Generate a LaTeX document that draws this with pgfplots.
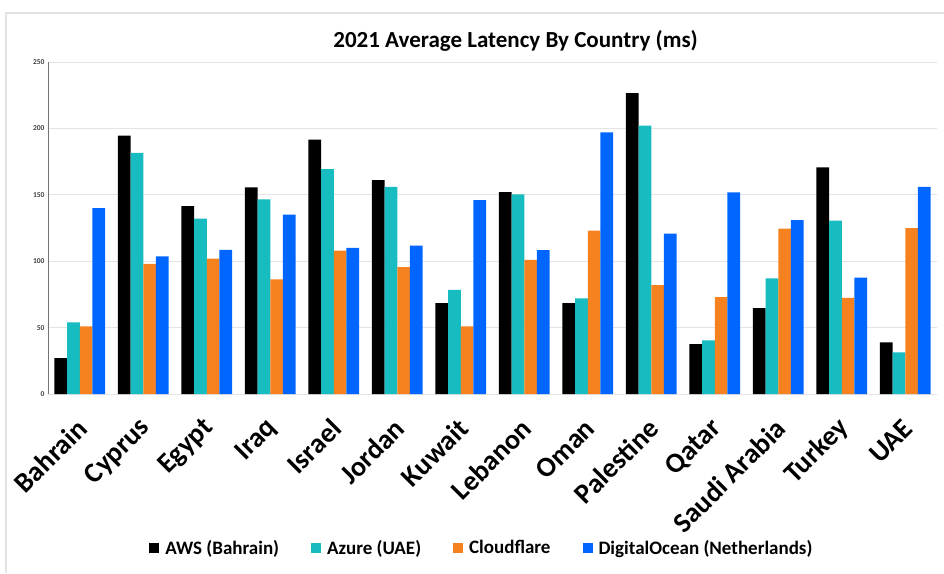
\documentclass[border=0pt]{standalone}
\usepackage{pgfplots}
\pgfplotsset{compat=1.18}
\usepackage{fontspec}
\setmainfont{Carlito}
\definecolor{cAWS}{HTML}{000000}
\definecolor{cAz}{HTML}{17BCC0}
\definecolor{cCF}{HTML}{F5821F}
\definecolor{cDO}{HTML}{0066FF}
\definecolor{gridc}{HTML}{E4E4E4}
\begin{document}
\begin{tikzpicture}[x=1pt,y=1pt]
\useasboundingbox (0,0) rectangle (944,573);
\draw[gridc, line width=1.2pt] (6,0) -- (6,560) -- (944,560);
\begin{axis}[
  at={(48pt,179pt)}, anchor=south west,
  scale only axis, width=889pt, height=332pt,
  ymin=0, ymax=250, ytick={0,50,...,250},
  xmin=-0.5, xmax=13.5,
  xtick={0,...,13},
  xticklabels={Bahrain,Cyprus,Egypt,Iraq,Israel,Jordan,Kuwait,Lebanon,Oman,Palestine,Qatar,Saudi Arabia,Turkey,UAE},
  major x tick style={draw=none},
  extra x ticks={-0.5,0.5,...,13.5},
  extra x tick labels={},
  extra x tick style={tick style={gridc, line width=0.8pt}, major tick length=5pt, tick align=outside, grid=none},
  xticklabel style={rotate=45, anchor=east, font=\fontsize{28}{28}\selectfont\bfseries, xshift=-13pt, yshift=-20pt},
  yticklabel style={font=\fontsize{7.5}{8}\selectfont\bfseries, text=black!75},
  /pgf/number format/assume math mode=true,
  ymajorgrids, grid style={gridc, line width=0.8pt},
  major y tick style={draw=none},
  axis x line*=bottom, axis y line*=left,
  x axis line style={gridc, line width=1pt, -},
  y axis line style={black!55, line width=1pt, -},
  ybar=0pt, bar width=0.2,
  title={2021 Average Latency By Country (ms)},
  title style={font=\fontsize{23}{23}\selectfont\bfseries, at={(axis description cs:0.526,1)}, anchor=center, yshift=15pt},
  legend columns=4,
  legend style={at={(axis description cs:0.488,-0.464)}, anchor=center, draw=none, font=\fontsize{19}{19}\selectfont\bfseries,
    /tikz/every odd column/.append style={column sep=4pt},
    /tikz/every even column/.append style={column sep=30pt}},
  legend image code/.code={\fill[#1] (0pt,-5pt) rectangle (10pt,5pt);},
]
\addplot[fill=cAWS, draw=none, bar shift=-0.3] coordinates {
(0,27) (1,194.5) (2,141.5) (3,155.6) (4,191.5) (5,161) (6,68.5) (7,152) (8,68.5) (9,226.6) (10,37.6) (11,64.7) (12,170.6) (13,38.9)};
\addplot[fill=cAz, draw=none, bar shift=-0.1] coordinates {
(0,54) (1,181.5) (2,132) (3,146.5) (4,169.4) (5,156) (6,78.5) (7,150.3) (8,72) (9,202) (10,40.4) (11,87) (12,130.5) (13,31.3)};
\addplot[fill=cCF, draw=none, bar shift=0.1] coordinates {
(0,51) (1,98) (2,102) (3,86.3) (4,108) (5,95.6) (6,51) (7,101) (8,123) (9,82) (10,73) (11,124.5) (12,72.3) (13,125)};
\addplot[fill=cDO, draw=none, bar shift=0.3] coordinates {
(0,140) (1,103.6) (2,108.6) (3,135) (4,110) (5,111.7) (6,146) (7,108.4) (8,197) (9,120.7) (10,151.8) (11,131) (12,87.6) (13,156)};
\legend{AWS (Bahrain),Azure (UAE),Cloudflare,DigitalOcean (Netherlands)}
\end{axis}
\end{tikzpicture}
\end{document}
